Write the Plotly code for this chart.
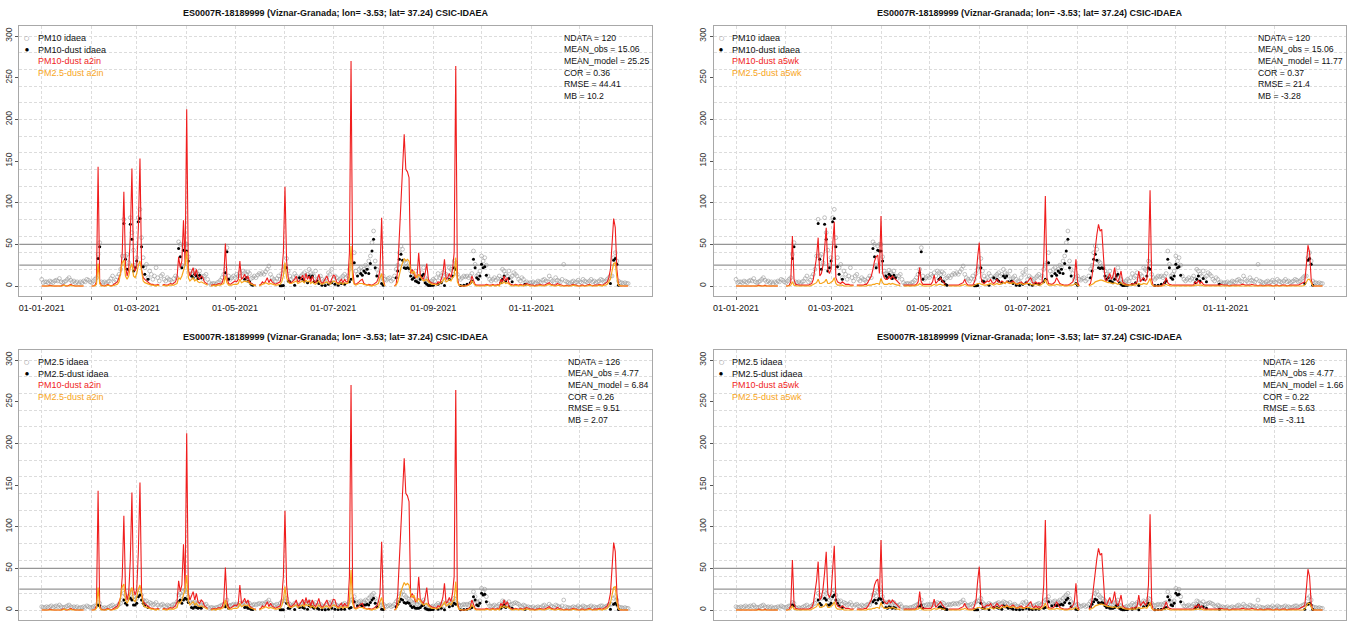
import datetime as dt
import plotly.graph_objects as go

# ---------------- data ----------------
START = dt.date(2021, 1, 1)
N_DAYS = 365
DAYS = [(START + dt.timedelta(days=i)).isoformat() for i in range(N_DAYS)]
N = None

A2IN_PM10 = (
    [0,0,0,0,0,1,0,0,0,0, 0,0,0,1,1,0,0,1,2,1, 0,0,0,0,0,0,0,N,N,N, N]
    + [0,0,1,5,143,5,1,0,0,1, 2,1,0,1,2,3,5,10,15,40, 113,25,12,20,60,141,25,18]
    + [25,70,153,20,10,8,6,4,3,2, 2,1,1,2,1,N,1,2,1,1, 2,3,2,3,5,10,35,22,30,79, 25]
    + [212,20,12,18,22,12,20,10,8,12, 10,5,3,2,N,1,1,2,1,2, 3,2,4,10,51,10,3,2,3,5]
    + [6,5,8,30,8,10,14,8,12,5, 3,2,1,1,N,1,2,5,3,6, 10,4,8,5,3,2,3,4,5,15, 40]
    + [119,30,10,5,4,6,8,12,5,6, 10,13,6,15,8,12,5,12,6,4, 8,14,6,3,5,8,12,6,4,8]
    + [13,12,5,3,6,8,4,8,5,5, 40,270,20,3,2,3,5,7,8,3, 2,1,2,1,1,2,3,5,10,20, 82]
    + [8,0,N,N,N,N,N,0,2,20, 60,90,125,182,140,137,130,15,20,15, 10,12,40,12,10,8,15,27,8,5, 4]
    + [3,3,2,5,4,8,15,32,8,10, 15,10,20,40,264,10,1,0,0,0, 0,1,2,3,12,6,2,1,1,1]
    + [1,1,1,2,1,1,1,2,1,1, 2,1,8,5,12,6,10,4,2,1, 1,2,1,1,2,1,1,2,3,2, 1]
    + [1,1,0,1,1,2,1,1,1,2, 3,4,2,1,1,1,3,2,1,1, 0,1,1,0,1,1,2,1,1,0]
    + [0,1,1,0,1,1,2,1,0,1, 1,1,2,1,1,2,3,5,10,20, 50,81,70,20,2,0,0,0,0,0, 0]
)
A2IN_PM25 = (
    [0,0,0,0,0,0,0,0,0,0, 0,0,0,0,1,0,0,0,1,0, 0,0,0,0,0,0,0,N,N,N, N]
    + [0,0,0,2,27,3,0,0,0,0, 1,0,0,0,1,1,2,5,15,28, 31,12,8,12,22,27,12,10]
    + [15,25,30,15,6,4,3,2,1,1, 1,0,0,1,0,N,0,1,0,0, 1,1,1,1,2,3,10,8,12,20, 25]
    + [42,10,6,8,10,6,8,5,4,5, 4,2,1,1,N,0,0,1,0,1, 1,1,2,3,12,4,1,1,1,2]
    + [2,2,3,8,4,5,6,5,6,3, 2,1,0,0,N,0,1,2,3,4, 3,2,3,2,1,1,1,2,2,5, 12]
    + [28,10,5,3,3,4,5,6,3,4, 5,6,4,7,5,6,3,5,3,2, 4,6,3,2,3,4,5,3,2,4]
    + [6,5,3,2,3,4,2,4,3,3, 10,48,8,2,1,2,3,3,3,2, 1,1,1,0,0,1,1,2,3,10, 15]
    + [4,0,N,N,N,N,N,0,1,5, 15,22,28,33,30,32,30,18,15,18, 12,10,14,10,8,6,7,8,5,3, 2]
    + [2,2,1,2,2,4,6,10,5,6, 8,6,10,12,34,5,1,0,0,0, 0,0,1,2,6,3,1,0,0,0]
    + [0,0,0,1,0,0,0,1,0,0, 1,0,4,3,5,3,4,2,1,0, 0,1,0,0,1,0,0,1,1,1, 0]
    + [0,0,0,0,0,1,0,0,0,1, 1,2,1,0,0,0,1,1,0,0, 0,0,0,0,0,0,1,0,0,0]
    + [0,0,0,0,0,0,1,0,0,0, 0,0,1,0,0,1,1,2,5,8, 18,27,28,10,1,0,0,0,0,0, 0]
)
A5WK_PM10 = (
    [0,0,0,0,0,0,0,0,0,0, 0,0,0,0,1,0,0,0,1,0, 0,0,0,0,0,0,0,N,N,N, N]
    + [0,0,1,5,60,8,2,1,1,1, 1,1,1,1,1,2,3,8,20,35, 58,12,15,25,45,70,20,15]
    + [20,45,77,10,5,4,3,5,3,2, 2,2,1,1,1,N,1,1,1,1, 1,2,2,5,8,12,20,30,35,37, 15]
    + [84,15,10,8,8,12,8,12,10,8, 5,3,2,N,1,1,1,1,1,1, 1,1,2,5,22,5,2,2,2,2]
    + [2,2,5,13,3,5,8,10,6,4, 2,N,1,1,1,1,1,1,1,2, 3,4,8,3,1,1,1,1,5,12, 35]
    + [52,10,4,3,4,6,5,8,4,3, 5,8,5,4,6,5,3,6,4,3, 5,6,4,2,3,4,5,3,2,4]
    + [5,8,10,4,3,5,3,4,3,5, 30,108,10,3,2,2,3,5,10,6, 3,2,1,1,1,1,2,3,5,10, 32]
    + [5,0,N,N,N,N,N,1,3,12, 30,50,62,74,66,68,35,8,6,10, 15,8,12,22,8,5,10,18,5,3, 2]
    + [2,1,2,3,2,3,5,18,5,8, 10,6,8,30,115,8,0,0,0,0, 0,0,2,4,10,4,2,1,1,1]
    + [1,1,1,1,1,1,1,1,1,1, 1,1,5,3,7,3,5,2,1,1, 1,1,1,1,1,1,1,1,2,1, 1]
    + [1,1,0,1,1,1,1,1,1,1, 2,2,1,1,1,1,2,1,1,1, 0,1,1,0,1,1,1,1,1,0]
    + [0,1,1,0,1,1,1,1,0,1, 1,1,1,1,1,1,2,3,3,5, 25,49,40,8,0,0,0,0,0,0, 0]
)
A5WK_PM25 = (
    [0,0,0,0,0,0,0,0,0,0, 0,0,0,0,0,0,0,0,0,0, 0,0,0,0,0,0,0,N,N,N, N]
    + [0,0,0,1,5,1,0,0,0,0, 0,0,0,0,0,0,1,2,3,4, 8,3,3,4,5,8,3,3]
    + [4,6,10,3,1,1,1,1,0,0, 0,0,0,0,0,N,0,0,0,0, 0,0,0,1,1,1,2,2,3,3, 2]
    + [9,4,2,2,2,3,2,3,2,2, 1,1,0,N,0,0,0,0,0,0, 0,0,1,1,3,1,0,0,0,0]
    + [0,0,1,2,1,1,2,2,1,1, 0,N,0,0,0,0,0,0,0,0, 1,1,2,1,0,0,0,0,1,2, 3]
    + [3,2,1,1,1,2,2,3,2,1, 2,3,2,2,3,4,3,5,4,3, 3,4,3,2,2,3,3,2,2,3]
    + [3,3,2,1,1,2,1,1,1,2, 4,8,3,1,1,1,1,1,2,1, 1,1,0,0,0,0,1,1,1,2, 3]
    + [1,0,N,N,N,N,N,0,1,2, 3,5,6,7,7,7,6,5,4,4, 4,3,3,4,3,2,3,4,2,1, 1]
    + [1,1,1,1,1,1,2,3,2,2, 3,2,2,5,9,2,0,0,0,0, 0,0,0,1,2,1,0,0,0,0]
    + [0,0,0,0,0,0,0,0,0,0, 0,0,1,1,1,1,1,0,0,0, 0,0,0,0,0,0,0,0,0,0, 0]
    + [0,0,0,0,0,0,0,0,0,0, 0,0,0,0,0,0,0,0,0,0, 0,0,0,0,0,0,0,0,0,0]
    + [0,0,0,0,0,0,0,0,0,0, 0,0,0,0,0,0,0,0,0,1, 4,8,8,3,0,0,0,0,0,0, 0]
)
PM10_OBS = (
    [8,4,5,5,4,6,5,4,6,7, 6,9,5,4,5,6,8,10,7,5, 6,4,5,3,5,4,6,5,8,7, 5]
    + [4,6,8,10,38,52,5,4,5,3, 5,6,9,12,5,7,11,14,20,36, 80,36,38,28,82,64,43,25]
    + [34,82,92,58,34,22,26,10,18,14, 8,12,22,10,6,12,14,8,6,10, 8,7,5,9,12,10,53,50,25,48, 50]
    + [50,35,18,15,14,19,16,14,18,12, 9,12,14,8,4,2,3,3,2,4, 5,7,10,14,20,46,12,8,10,12]
    + [10,14,12,16,12,18,16,14,17,15, 9,10,12,10,13,15,14,16,14,17, 20,24,14,10,8,6,9,12,8,15, 20]
    + [22,33,18,12,8,10,15,12,8,10, 12,14,16,12,14,20,16,14,12,18, 8,10,12,8,6,5,10,16,14,20]
    + [8,12,10,6,8,10,12,14,10,12, 20,25,28,40,18,14,20,22,18,20, 25,22,30,36,52,66,30,20,15,8, 10]
    + [12,8,7,9,10,6,8,12,20,25, 40,48,44,30,28,24,22,18,14,12, 18,10,8,12,16,22,10,8,5,4, 6]
    + [8,6,10,15,10,12,16,8,14,12, 22,20,18,30,28,14,10,8,10,12, 11,12,10,12,15,42,26,12,14,18]
    + [36,30,34,25,12,8,6,8,10,7, 9,12,8,20,18,14,12,18,10,12, 16,14,12,8,6,10,8,4,5,3, 4]
    + [4,5,3,4,6,5,4,7,8,6, 5,12,8,6,4,10,7,6,5,8, 26,6,5,4,3,5,6,4,5,7]
    + [5,4,8,6,5,4,6,8,5,6, 4,5,6,8,7,5,6,8,10,12, 12,34,40,30,6,4,4,3,4,3, 3]
)
PM25_OBS = (
    [4,3,3,4,3,4,5,3,4,5, 4,6,4,3,3,4,5,6,4,3, 4,3,4,2,3,3,4,3,5,4, 3]
    + [3,4,5,5,9,8,3,2,3,2, 3,4,5,6,3,4,5,7,8,12, 20,18,14,15,22,20,16,12]
    + [14,20,24,18,12,10,11,7,9,8, 6,7,9,6,4,6,7,5,4,6, 5,4,6,7,6,10,18,20,17,22, 24]
    + [22,16,10,8,9,10,8,7,9,6, 5,6,7,4,2,3,3,2,3,3, 4,5,6,7,9,12,6,5,6,7]
    + [6,7,6,8,7,9,8,7,9,8, 5,6,7,6,7,8,7,8,7,9, 10,12,8,6,5,6,7,5,8,10, 11]
    + [11,14,9,7,5,6,8,7,5,6, 7,8,9,7,8,10,9,8,7,9, 5,6,7,5,4,4,6,9,8,10]
    + [5,7,6,4,5,6,7,8,6,7, 10,12,13,16,10,8,10,11,9,10, 12,11,14,16,18,20,14,10,8,5, 6]
    + [7,5,4,5,6,4,5,7,10,12, 16,20,22,18,16,14,13,11,9,8, 10,7,6,8,10,12,6,5,3,3, 4]
    + [5,4,6,8,6,7,9,5,8,7, 11,10,9,14,13,8,6,5,6,7, 6,7,6,8,9,22,16,10,9,11]
    + [26,22,25,16,8,5,4,5,6,4, 5,7,5,11,10,8,7,10,6,7, 8,9,8,7,5,4,6,5,3,4, 3]
    + [3,4,2,3,4,3,3,5,6,4, 3,7,5,4,3,6,5,4,3,5, 12,4,3,3,2,3,4,3,3,5]
    + [3,3,5,4,3,3,4,5,3,4, 3,3,4,5,5,3,4,5,6,7, 7,14,16,12,4,3,3,2,3,2, 2]
)
# dust days (day index from 01-01-2021) and observed dust concentrations
DUST_DAY = [35,36, 51,52,53,55,56,57,58,59,60,61,62,63,64,66,
            85,86,87,88,89,90,91,93,94,95,96,97,98,99, 114,115,116,
            126,127,128,129,130,131, 148,149,150,152,153,154,157,160,162,163,165,166,167,168,169,171,172,174,176,178,180,
            182,184,186,188,191,192,194,196,198,199,200,201,202,203,204,205,206,207,208,211,212,
            220,221,222,223,224,225,226,227,228,229,230,231,232,233,234,235,236,237,238,239,240,241,242,
            243,246,248,250,253,255,256,257,260,262,264,266,267,268,269,270,271,272,273,274,275,276,
            285,286,287,288,290,292,300, 353,355,356,357,358]
PM10_DUST = [33,47, 75,32,20,74,56,18,22,30,77,81,47,23,14,8,
             45,35,22,43,42,42,30,12,10,14,12,9,13,10, 16,41,8,
             8,10,6,5,2,1, 0.3,0.3,0.5,22,6,5,1,10,8,6,4,12,10,12,5,6,3,1,0.5,2,4,
             2,1,3,2,5,8,28,12,15,13,18,16,20,15,27,42,56,22,12,3,1,
             10,18,32,38,31,22,21,22,21,12,8,10,6,5,4,8,12,14,4,2,0.5,0.5,1,
             1,2,4,0.5,8,12,22,20,0.5,1,2,4,6,32,22,10,8,12,26,22,23,13,
             4,8,12,6,9,5,2, 3,31,33,26,1]
PM25_DUST = [6,5, 12,8,6,14,12,6,6,8,16,18,12,8,5,3,
             10,12,8,12,14,13,9,3,2,4,3,2,3,2, 4,6,2,
             3,4,2,2,1,0.5, 0.2,0.2,0.3,8,2,2,0.5,3,3,2,1,5,4,4,2,2,1,0.5,0.3,1,2,
             1,0.5,1,1,2,3,10,5,6,5,6,6,7,6,9,12,14,8,4,1,0.5,
             4,7,10,13,12,9,8,9,8,5,3,4,2,2,2,3,5,6,2,1,0.3,0.3,0.5,
             0.5,1,2,0.3,4,5,8,7,0.3,0.5,1,2,3,16,12,6,5,8,20,18,19,10,
             2,4,6,3,4,2,1, 1,7,8,6,0.5]
DUST_DATES = [DAYS[d] for d in DUST_DAY]

TITLE = "ES0007R-18189999 (Viznar-Granada; lon= -3.53; lat= 37.24) CSIC-IDAEA"
X_TICK_FMT = "%d-%m-%Y"
X_LABEL_MONTHS = ["2021-01-01", "2021-03-01", "2021-05-01", "2021-07-01", "2021-09-01", "2021-11-01"]
X_MINOR_MONTHS = ["2021-%02d-01" % m for m in range(1, 13)]
Y_LABELS = [0, 50, 100, 150, 200, 250, 300]
Y_GRID = list(range(0, 301, 20))
THRESHOLDS = [25, 50]

PANELS = [
    dict(obs=PM10_OBS, dust=PM10_DUST, pm10=A2IN_PM10, pm25=A2IN_PM25,
         names=["PM10 idaea", "PM10-dust idaea", "PM10-dust a2in", "PM2.5-dust a2in"],
         stats=["NDATA = 120", "MEAN_obs = 15.06", "MEAN_model = 25.25", "COR = 0.36", "RMSE = 44.41", "MB = 10.2"]),
    dict(obs=PM10_OBS, dust=PM10_DUST, pm10=A5WK_PM10, pm25=A5WK_PM25,
         names=["PM10 idaea", "PM10-dust idaea", "PM10-dust a5wk", "PM2.5-dust a5wk"],
         stats=["NDATA = 120", "MEAN_obs = 15.06", "MEAN_model = 11.77", "COR = 0.37", "RMSE = 21.4", "MB = -3.28"]),
    dict(obs=PM25_OBS, dust=PM25_DUST, pm10=A2IN_PM10, pm25=A2IN_PM25,
         names=["PM2.5 idaea", "PM2.5-dust idaea", "PM10-dust a2in", "PM2.5-dust a2in"],
         stats=["NDATA = 126", "MEAN_obs = 4.77", "MEAN_model = 6.84", "COR = 0.26", "RMSE = 9.51", "MB = 2.07"]),
    dict(obs=PM25_OBS, dust=PM25_DUST, pm10=A5WK_PM10, pm25=A5WK_PM25,
         names=["PM2.5 idaea", "PM2.5-dust idaea", "PM10-dust a5wk", "PM2.5-dust a5wk"],
         stats=["NDATA = 126", "MEAN_obs = 4.77", "MEAN_model = 1.66", "COR = 0.22", "RMSE = 5.63", "MB = -3.11"]),
]

# ---------------- layout geometry (pixels) ----------------
W, H = 1352, 621
FONT = "Liberation Sans, Arial, Helvetica, sans-serif"
RED, ORANGE = "#F01E1E", "#F7A51C"
X_DOM = [(19.3, 652.0), (713.6, 1346.3)]
Y_DOM = [(26.0, 296.0), (350.0, 620.0)]
STAT_X = [561.7, 1256.0, 566.0, 1261.0]
DX = [0.0, 694.3]
DY = [0.0, 324.0]

x_lo = (dt.datetime(2021, 1, 1) - dt.timedelta(days=13.9)).isoformat()
x_hi = (dt.datetime(2021, 1, 1) + dt.timedelta(days=378.8)).isoformat()

fig = go.Figure()
ann = []
shapes = []


def px(x):
    return x / W


def py(y):
    return 1 - y / H


GRID = dict(showgrid=True, gridcolor="#dcdcdc", griddash="3px,2px", gridwidth=1)

for k, p in enumerate(PANELS):
    col, row = k % 2, k // 2
    sfx = "" if k == 0 else str(k + 1)
    xa, ya = "x" + sfx, "y" + sfx
    fig.add_trace(go.Scatter(x=DAYS, y=p["obs"], mode="markers", xaxis=xa, yaxis=ya,
                             marker=dict(symbol="circle-open", size=3.8, color="#999999",
                                         line=dict(width=0.6)),
                             showlegend=False, hoverinfo="skip"))
    fig.add_trace(go.Scatter(x=DUST_DATES, y=p["dust"], mode="markers", xaxis=xa, yaxis=ya,
                             marker=dict(symbol="circle", size=3.0, color="black"),
                             showlegend=False, hoverinfo="skip"))
    fig.add_trace(go.Scatter(x=DAYS, y=p["pm10"], mode="lines", xaxis=xa, yaxis=ya,
                             line=dict(color=RED, width=1.1), connectgaps=False,
                             showlegend=False, hoverinfo="skip"))
    fig.add_trace(go.Scatter(x=DAYS, y=p["pm25"], mode="lines", xaxis=xa, yaxis=ya,
                             line=dict(color=ORANGE, width=1.2), connectgaps=False,
                             showlegend=False, hoverinfo="skip"))

    x0, x1 = X_DOM[col]
    y0, y1 = Y_DOM[row]
    fig.layout["xaxis" + sfx] = dict(
        domain=[px(x0), px(x1)], anchor=ya, type="date", range=[x_lo, x_hi], automargin=False,
        tickmode="array", tickvals=X_LABEL_MONTHS, tickformat=X_TICK_FMT,
        ticks="outside", ticklen=3, tickcolor="#555", showticklabels=(row == 0),
        tickfont=dict(family=FONT, size=9, color="#111"),
        minor=dict(tickmode="array", tickvals=X_MINOR_MONTHS, ticks="outside", ticklen=3,
                   tickcolor="#555", **GRID),
        showline=True, mirror=True, linecolor="#a8a8a8", linewidth=1, zeroline=False,
        fixedrange=True, **GRID,
    )
    fig.layout["yaxis" + sfx] = dict(
        domain=[py(y1), py(y0)], anchor=xa, range=[-12, 312], automargin=False,
        tickmode="array", tickvals=Y_LABELS, tickangle=-90,
        ticks="outside", ticklen=3, tickcolor="#555",
        tickfont=dict(family=FONT, size=8.5, color="#333"),
        showgrid=False, fixedrange=True,
        minor=dict(tickmode="array", tickvals=Y_GRID, ticks="inside", ticklen=0, **GRID),
        showline=True, mirror=True, linecolor="#a8a8a8", linewidth=1, zeroline=False,
    )
    for t in THRESHOLDS:
        shapes.append(dict(type="line", xref=xa + " domain", yref=ya, x0=0, x1=1, y0=t, y1=t,
                           line=dict(color="#959595", width=1.1), layer="below"))

    # title
    ann.append(dict(text="<b>" + TITLE + "</b>", x=px((x0 + x1) / 2), y=py(13.0 + DY[row]),
                    xref="paper", yref="paper", showarrow=False, xanchor="center", yanchor="middle",
                    font=dict(family=FONT, size=9, color="#111")))
    # legend
    ly = [37.7, 49.5, 61.3, 72.9]
    colors = ["#111", "#111", RED, ORANGE]
    for i, name in enumerate(p["names"]):
        ann.append(dict(text=name, x=px(35.7 + DX[col]), y=py(ly[i] + DY[row]),
                        xref="paper", yref="paper", showarrow=False, xanchor="left", yanchor="middle",
                        font=dict(family=FONT, size=9, color=colors[i])))
    ann.append(dict(text="○", x=px(26.7 + DX[col]), y=py(ly[0] + DY[row]), xref="paper", yref="paper",
                    showarrow=False, xanchor="center", yanchor="middle",
                    font=dict(family="DejaVu Sans", size=6, color="#777")))
    ann.append(dict(text="●", x=px(26.7 + DX[col]), y=py(ly[1] + DY[row]), xref="paper", yref="paper",
                    showarrow=False, xanchor="center", yanchor="middle",
                    font=dict(family="DejaVu Sans", size=4.5, color="#000")))
    # stats
    sy = [37.7, 49.3, 61.3, 72.7, 84.3, 96.3]
    for i, s in enumerate(p["stats"]):
        ann.append(dict(text=s, x=px(STAT_X[k]), y=py(sy[i] + DY[row]),
                        xref="paper", yref="paper", showarrow=False, xanchor="left", yanchor="middle",
                        font=dict(family=FONT, size=8.7, color="#111")))

fig.update_layout(template="none", width=W, height=H, margin=dict(l=0, r=0, t=0, b=0, pad=0),
                  paper_bgcolor="white", plot_bgcolor="white", hovermode=False,
                  annotations=ann, shapes=shapes, showlegend=False,
                  font=dict(family=FONT))
fig.write_html("out.html", config={"displayModeBar": False, "staticPlot": True},
               post_script="document.body.style.margin='0';document.body.style.padding='0';"
                           "document.body.style.overflow='hidden';")
